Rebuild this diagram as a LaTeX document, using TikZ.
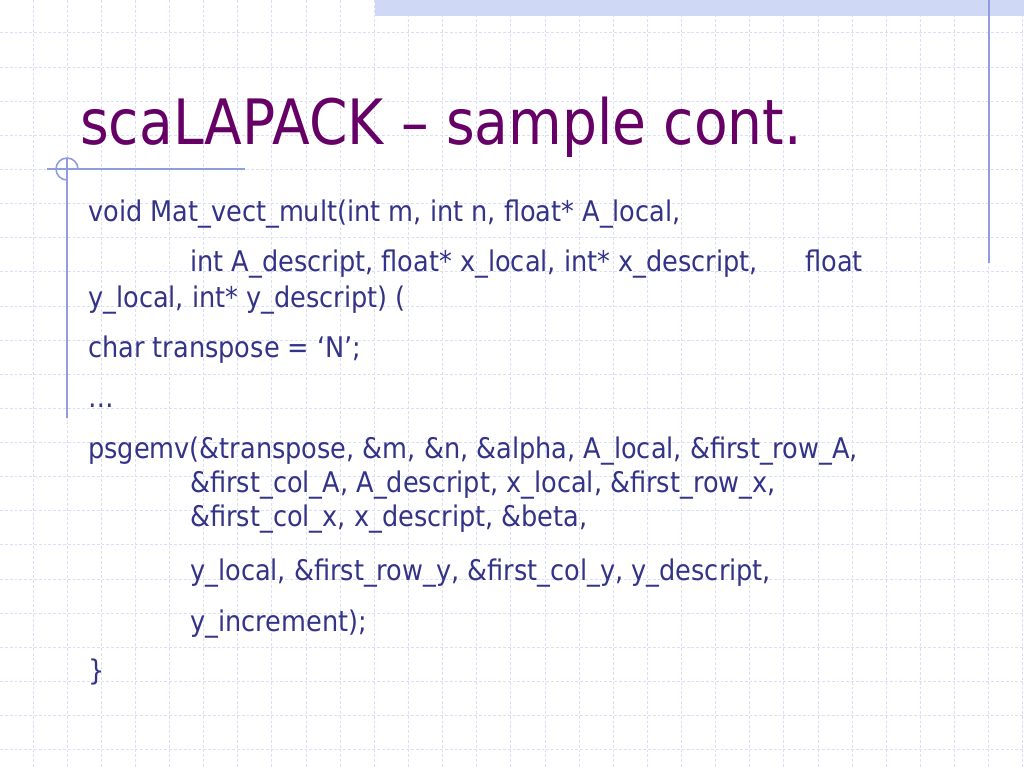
\documentclass[tikz,border=0pt]{standalone}
\usepackage{fontspec}
\setmainfont{DejaVu Sans}[FakeStretch=0.9]
\newfontfamily\titlefont{DejaVu Sans}[FakeStretch=0.88]
\begin{document}
\begin{tikzpicture}[x=0.703125pt,y=-0.703125pt,
  gridline/.style={draw=gridc, line width=0.7pt, dash pattern=on 2pt off 1.4pt},
  decoline/.style={draw=decoc, line width=1.1pt},
  body/.style={anchor=base west, inner sep=0pt, text=bodyc, font=\fontsize{20pt}{24pt}\selectfont},
  titlestyle/.style={anchor=base west, inner sep=0pt, text=titlec, font=\titlefont\fontsize{44pt}{52pt}\selectfont}]
\definecolor{gridc}{HTML}{DADFF7}
\definecolor{decoc}{HTML}{8E9DE2}
\definecolor{bodyc}{HTML}{333388}
\definecolor{titlec}{HTML}{660066}
\definecolor{bandc}{HTML}{CFD9F6}
\useasboundingbox (0,0) rectangle (1024,768);
\fill[white] (0,0) rectangle (1024,768);
% grid
\foreach \k in {0,...,29} {
  \draw[gridline] ({33+34.133*\k},0) -- ({33+34.133*\k},768);
}
\foreach \k in {0,...,21} {
  \draw[gridline] (0,{33+34.133*\k}) -- (1024,{33+34.133*\k});
}
% top band
\fill[bandc] (375,0) rectangle (1024,16);
% decorations
\coordinate (vr1) at (989,0);
\coordinate (vr2) at (989,263);
\draw[decoline] (vr1) -- (vr2);
\coordinate (h1) at (47,169);
\coordinate (h2) at (245,169);
\draw[decoline] (h1) -- (h2);
\coordinate (v1) at (67,158);
\coordinate (v2) at (67,418);
\draw[decoline] (v1) -- (v2);
\coordinate (cc) at (67,180);
\draw[decoline] (cc) arc[start angle=90, end angle=360, radius=11];
% title
\node[titlestyle] (title) at (80,145) {scaLAPACK – sample cont.};
% body
\node[body] (l1) at (88,222) {void Mat\_vect\_mult(int m, int n, float* A\_local,};
\node[body] (l2) at (190,272) {int A\_descript, float* x\_local, int* x\_descript,};
\node[body] (l2b) at (805,272) {float};
\node[body] (l3) at (88,307) {y\_local, int* y\_descript) (};
\node[body] (l4) at (88,357) {char transpose = ‘N’;};
\node[body] (l5) at (88,407) {…};
\node[body] (l6) at (88,458) {psgemv(\&transpose, \&m, \&n, \&alpha, A\_local, \&first\_row\_A,};
\node[body] (l7) at (190,492) {\&first\_col\_A, A\_descript, x\_local, \&first\_row\_x,};
\node[body] (l8) at (190,526) {\&first\_col\_x, x\_descript, \&beta,};
\node[body] (l9) at (190,580) {y\_local, \&first\_row\_y, \&first\_col\_y, y\_descript,};
\node[body] (l10) at (190,631) {y\_increment);};
\node[body] (l11) at (88,680) {\}};
\end{tikzpicture}
\end{document}
